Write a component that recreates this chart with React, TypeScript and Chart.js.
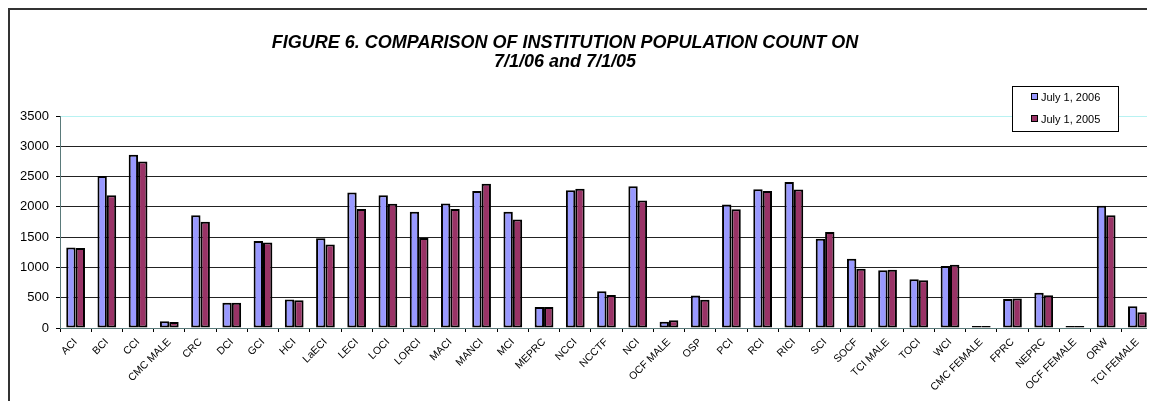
import React, { useEffect, useRef } from "react";
import { Chart, registerables } from "chart.js";

Chart.register(...registerables);

const categories = [
  "ACI", "BCI", "CCI", "CMC MALE", "CRC", "DCI", "GCI", "HCI", "LaECI", "LECI",
  "LOCI", "LORCI", "MACI", "MANCI", "MCI", "MEPRC", "NCCI", "NCCTF", "NCI", "OCF MALE",
  "OSP", "PCI", "RCI", "RICI", "SCI", "SOCF", "TCI MALE", "TOCI", "WCI", "CMC FEMALE",
  "FPRC", "NEPRC", "OCF FEMALE", "ORW", "TCI FEMALE",
];

const july2006 = [
  1330, 2510, 2860, 110, 1860, 415, 1435, 470, 1480, 2235,
  2190, 1920, 2055, 2260, 1920, 345, 2275, 605, 2340, 105,
  535, 2040, 2290, 2410, 1475, 1145, 955, 805, 1025, 35,
  480, 580, 35, 2020, 360,
];

const july2005 = [
  1320, 2190, 2750, 100, 1755, 415, 1410, 460, 1380, 1965,
  2050, 1485, 1965, 2380, 1790, 345, 2300, 545, 2105, 130,
  465, 1960, 2260, 2285, 1585, 980, 960, 790, 1045, 35,
  485, 540, 35, 1860, 260,
];

const seriesLabels = ["July 1, 2006", "July 1, 2005"];
const titleLines = ["FIGURE 6. COMPARISON OF INSTITUTION POPULATION COUNT ON", "7/1/06 and 7/1/05"];
const yMin = 0;
const yMax = 3500;
const yStep = 500;

const FONT = '"Liberation Sans", Arial, sans-serif';

const titlePlugin = {
  id: "figTitle",
  afterDraw(chart: any) {
    const ctx = chart.ctx;
    ctx.save();
    ctx.font = `italic bold 18px ${FONT}`;
    ctx.fillStyle = "#000";
    ctx.textAlign = "center";
    ctx.textBaseline = "middle";
    titleLines.forEach((t, i) => ctx.fillText(t, 557, 35 + i * 19.5));
    ctx.restore();
  },
};

const legendPlugin = {
  id: "boxLegend",
  afterDraw(chart: any) {
    const ctx = chart.ctx;
    const x = 1004, y = 78, w = 106, h = 45;
    ctx.save();
    ctx.fillStyle = "#fff";
    ctx.fillRect(x, y, w, h);
    ctx.strokeStyle = "#000";
    ctx.lineWidth = 1;
    ctx.strokeRect(x + 0.5, y + 0.5, w, h);
    ctx.font = `11px ${FONT}`;
    ctx.textBaseline = "middle";
    ctx.textAlign = "left";
    chart.data.datasets.forEach((ds: any, i: number) => {
      const cy = y + 11 + i * 22;
      ctx.fillStyle = ds.backgroundColor;
      ctx.fillRect(x + 19, cy - 3, 6, 6);
      ctx.strokeStyle = "#000";
      ctx.strokeRect(x + 19.5, cy - 3.5, 6, 6);
      ctx.fillStyle = "#000";
      ctx.fillText(ds.label, x + 29, cy + 0.5);
    });
    ctx.restore();
  },
};

export default function App() {
  const ref = useRef<HTMLCanvasElement | null>(null);

  useEffect(() => {
    if (!ref.current) return;
    const chart = new Chart(ref.current, {
      type: "bar",
      data: {
        labels: categories,
        datasets: [
          {
            label: seriesLabels[0],
            data: july2006,
            backgroundColor: "#9999FF",
            borderColor: "#000",
            borderWidth: 2,
            borderSkipped: false,
            categoryPercentage: 0.6,
            barPercentage: 1.0,
          },
          {
            label: seriesLabels[1],
            data: july2005,
            backgroundColor: "#993366",
            borderColor: "#000",
            borderWidth: 2,
            borderSkipped: false,
            categoryPercentage: 0.6,
            barPercentage: 1.0,
          },
        ],
      },
      options: {
        responsive: false,
        animation: false,
        devicePixelRatio: 1,
        layout: { padding: { top: 108, right: 2, left: 0, bottom: 0 } },
        font: { family: FONT },
        plugins: {
          legend: { display: false },
          title: { display: false },
          tooltip: { enabled: false },
        },
        scales: {
          x: {
            offset: true,
            grid: {
              offset: true,
              drawOnChartArea: false,
              drawTicks: true,
              tickLength: 4,
              color: "#000",
            },
            border: { color: "#5a7a7a", width: 1 },
            ticks: {
              autoSkip: false,
              maxRotation: 45,
              minRotation: 45,
              padding: 4,
              color: "#000",
              font: { family: FONT, size: 10.5 },
            },
            afterFit: (s: any) => {
              s.height = 81;
            },
          },
          y: {
            min: yMin,
            max: yMax,
            ticks: {
              stepSize: yStep,
              color: "#000",
              padding: 7,
              font: { family: FONT, size: 13 },
              callback: (v: any) => String(v),
            },
            grid: {
              color: (c: any) => {
                const v = c.tick ? c.tick.value : null;
                if (v === yMax) return "#b8f2f2";
                if (v === yMin) return "#5a7a7a";
                return "#222";
              },
              tickColor: "#000",
              tickLength: 4,
              lineWidth: 1,
            },
            border: { color: "#5a7a7a", width: 1 },
            afterFit: (s: any) => {
              s.width = 52;
            },
          },
        },
      },
      plugins: [titlePlugin, legendPlugin],
    } as any);
    return () => chart.destroy();
  }, []);

  return (
    <div style={{ position: "relative", height: 393 }}>
      <style>{"html,body{overflow:hidden;}"}</style>
      <div
        style={{
          position: "absolute",
          left: 0,
          top: 0,
          width: 1147,
          height: 401,
          overflow: "hidden",
        }}
      >
        <canvas
          ref={ref}
          width={1147}
          height={401}
          style={{ position: "absolute", left: 0, top: 0, display: "block" }}
        />
        <div
          style={{
            position: "absolute",
            left: 0,
            top: 0,
            width: 1147,
            height: 401,
            boxSizing: "border-box",
            borderLeft: "2px solid #333",
            borderTop: "2px solid #333",
            pointerEvents: "none",
          }}
        />
      </div>
    </div>
  );
}
